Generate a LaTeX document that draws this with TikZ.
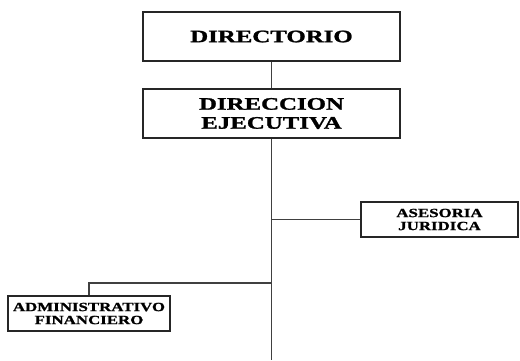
\documentclass[tikz,border=0pt]{standalone}
\usepackage{fontspec}
\newfontfamily\bigorg[FakeStretch=1.42, FakeBold=1.5]{Liberation Serif}
\newfontfamily\smallorg[FakeStretch=1.35, FakeBold=1.2]{Liberation Serif}
\begin{document}
\begin{tikzpicture}[x=1pt, y=1pt,
    unit/.style={draw=black!85, line width=1.6pt, rectangle, align=center, inner sep=0pt},
    link/.style={draw=black!75, line width=1.3pt}]
    \useasboundingbox (0,0) rectangle (520,-360);

    % Top boxes
    \node[unit, minimum width=257, minimum height=49, font=\bigorg\bfseries\fontsize{17.5}{19}\selectfont] (dir) at (271.5,-36.5) {DIRECTORIO};
    \node[unit, minimum width=257, minimum height=49, font=\bigorg\bfseries\fontsize{17.5}{19}\selectfont] (dej) at (271.5,-113.5) {DIRECCION\\EJECUTIVA};

    % Side boxes
    \node[unit, line width=1.2pt, minimum width=157, minimum height=35, font=\smallorg\bfseries\fontsize{12.5}{13}\selectfont] (ase) at (439.5,-219.5) {ASESORIA\\JURIDICA};
    \node[unit, line width=1.2pt, minimum width=162, minimum height=35, font=\smallorg\bfseries\fontsize{12.5}{13}\selectfont] (adm) at (89,-313.5) {ADMINISTRATIVO\\FINANCIERO};

    % Trunk and branches
    \coordinate (foot) at (271.5,-360);
    \coordinate (fork) at (271.5,-283);
    \draw[link] (dir) -- (dej);
    \draw[link] (dej) -- (foot);
    \draw[link] (dej.south |- ase.west) -- (ase.west);
    \draw[link] (fork) -| (adm.north);
\end{tikzpicture}
\end{document}
